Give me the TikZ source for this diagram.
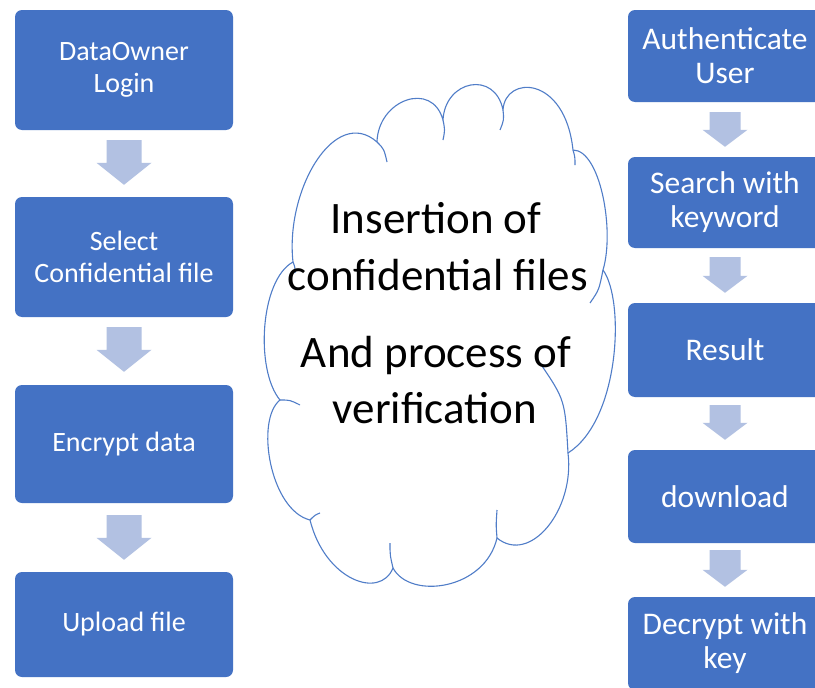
\documentclass[tikz,border=0pt]{standalone}
\usepackage{fontspec}
\setmainfont{Carlito}
\usetikzlibrary{calc}
\definecolor{boxblue}{RGB}{68,114,196}
\definecolor{arrowblue}{RGB}{178,193,226}
\definecolor{cloudblue}{RGB}{80,125,200}
% #1 from node, #2 to node, #3 shaft half width, #4 head half width, #5 top gap, #6 bottom gap, #7 head length
\newcommand{\blockarr}[7]{%
  \fill[arrowblue] let \p1=(#1.south), \p2=(#2.north) in
    (\x1-#3,\y1-#5) -- (\x1+#3,\y1-#5) -- (\x1+#3,\y2+#6+#7) -- (\x1+#4,\y2+#6+#7)
    -- (\x1,\y2+#6) -- (\x1-#4,\y2+#6+#7) -- (\x1-#3,\y2+#6+#7) -- cycle;}
\begin{document}
\begin{tikzpicture}[x=1pt,y=-1pt,
  lbox/.style={rectangle, rounded corners=7pt, fill=boxblue, draw=none, text=white,
    inner sep=0pt, align=center, minimum width=218pt,
    font=\fontsize{28}{32}\selectfont},
  rbox/.style={rectangle, rounded corners=7pt, fill=boxblue, draw=none, text=white,
    inner sep=0pt, align=center, minimum width=194pt,
    font=\fontsize{31.5}{34}\selectfont},
  cloudline/.style={draw=cloudblue, line width=1.1pt},
  ctext/.style={anchor=base, inner sep=0pt, text=black, font=\fontsize{45}{54}\selectfont}]
\useasboundingbox (0,0) rectangle (815,688);
\clip (0,0) rectangle (815,688);
\fill[white] (0,0) rectangle (815,688);

% left column
\node[lbox, minimum height=120pt] (l1) at (124,70) {DataOwner\\Login};
\node[lbox, minimum height=120pt] (l2) at (124,257) {Select\\Confidential file};
\node[lbox, minimum height=118pt] (l3) at (124,444) {Encrypt data};
\node[lbox, minimum height=105pt] (l4) at (124,624.5) {Upload file};

\blockarr{l1}{l2}{17.5pt}{27.5pt}{10pt}{12pt}{22pt}
\blockarr{l2}{l3}{17.5pt}{27.5pt}{10pt}{13pt}{22pt}
\blockarr{l3}{l4}{17.5pt}{27.5pt}{12pt}{12pt}{22pt}

% right column
\node[rbox, minimum height=92pt] (r1) at (725,56) {Authenticate\\User};
\node[rbox, minimum height=91pt] (r2) at (725,202.5) {Search with\\keyword};
\node[rbox, minimum height=94pt] (r3) at (725,350) {Result};
\node[rbox, minimum height=93pt] (r4) at (725,496.5) {download};
\node[rbox, minimum height=93pt] (r5) at (725,643.5) {Decrypt with\\key};

\blockarr{r1}{r2}{15.5pt}{22.5pt}{10pt}{10pt}{17pt}
\blockarr{r2}{r3}{15.5pt}{22.5pt}{9pt}{10pt}{17pt}
\blockarr{r3}{r4}{15.5pt}{22.5pt}{8pt}{10pt}{17pt}
\blockarr{r4}{r5}{15.5pt}{22.5pt}{7pt}{10pt}{17pt}

% cloud
\draw[cloudline, line join=round] (293,262) .. controls (285,190) and (335,105) .. (377,142)
 .. controls (378,100) and (432,80) .. (443,120)
 .. controls (445,80) and (495,70) .. (503,110)
 .. controls (505,75) and (565,75) .. (573,150)
 .. controls (600,150) and (615,230) .. (603,270)
 .. controls (625,300) and (620,420) .. (568,453)
 .. controls (575,510) and (530,565) .. (497,538)
 .. controls (485,590) and (410,600) .. (393,568)
 .. controls (380,600) and (325,580) .. (310,520)
 .. controls (270,510) and (255,420) .. (280,400)
 .. controls (255,370) and (260,280) .. (293,262);
\draw[cloudline] (377,142) .. controls (384,149) .. (387,162);
\draw[cloudline] (443,120) .. controls (445,130) .. (443,140);
\draw[cloudline] (503,110) .. controls (504,120) .. (500,130);
\draw[cloudline] (573,150) .. controls (575,157) .. (575,165);
\draw[cloudline] (603,270) .. controls (599,290) .. (590,303);
\draw[cloudline] (568,453) .. controls (565,400) .. (540,363);
\draw[cloudline] (497,538) .. controls (496,525) .. (497,510);
\draw[cloudline] (393,568) .. controls (390,555) .. (390,543);
\draw[cloudline] (310,520) .. controls (315,515) .. (320,513);
\draw[cloudline] (280,400) .. controls (290,400) .. (300,405);
\draw[cloudline] (293,262) .. controls (295,267) .. (295,273);

\node[ctext] (t1) at (436,233) {Insertion of};
\node[ctext] (t2) at (438,290) {confidential files};
\node[ctext] (t3) at (436,367) {And process of};
\node[ctext] (t4) at (435,423) {verification};
\end{tikzpicture}
\end{document}
